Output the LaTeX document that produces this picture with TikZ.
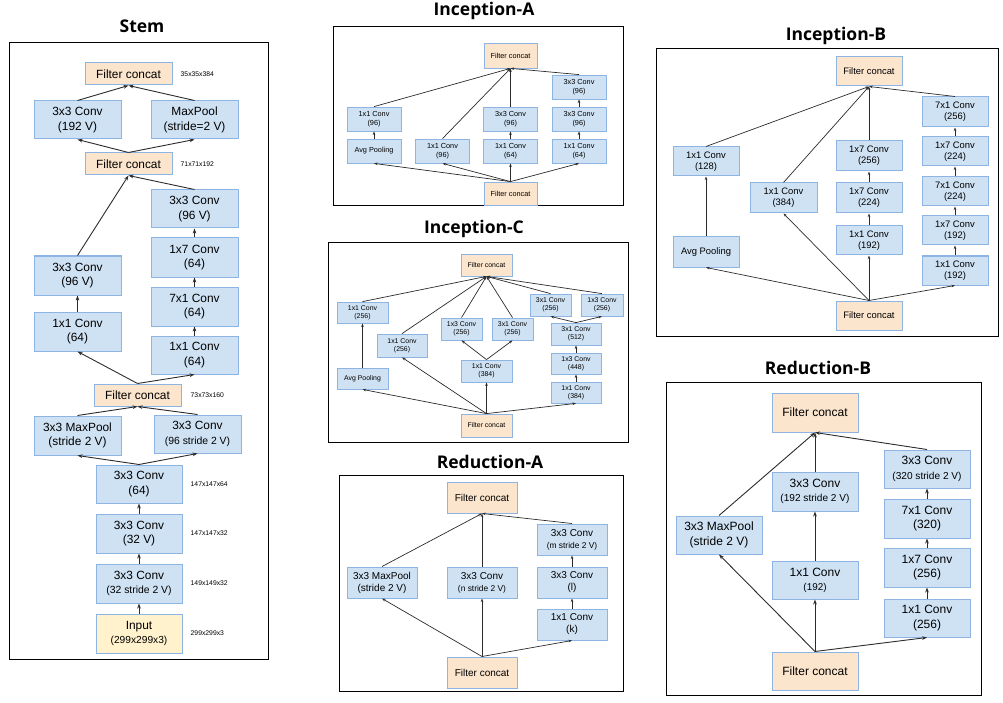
\documentclass[tikz,border=0pt]{standalone}
\usepackage{fontspec}
\setmainfont{Liberation Sans}
\newfontfamily\titlefont{Open Sans}
\usetikzlibrary{arrows.meta,positioning}

\definecolor{convfill}{HTML}{CFE2F3}
\definecolor{concatfill}{HTML}{FCE5CD}
\definecolor{inputfill}{HTML}{FFF2CC}
\definecolor{boxline}{HTML}{8EB4E3}
\definecolor{arrowgray}{HTML}{2B2B2B}

\newcommand\subline[2]{{\fontsize{#1}{#1}\selectfont #2}}

\tikzset{
  fs/.style 2 args={font=\fontsize{#1}{#2}\selectfont},
  block/.style n args={2}{draw=boxline, line width=1pt, align=center,
    inner sep=0pt, minimum width=#1pt, minimum height=#2pt},
  conv/.style={fill=convfill},
  concat/.style={fill=concatfill},
  inbox/.style={fill=inputfill},
  link/.style={draw=arrowgray, line width=0.9pt, -{Stealth[length=5pt,width=3.6pt]}},
  thinlink/.style={draw=arrowgray, line width=0.7pt, -{Stealth[length=3.6pt,width=2.6pt]}},
  panel/.style={draw=black, line width=1pt},
  paneltitle/.style={font=\titlefont\bfseries\fontsize{17.5}{20}\selectfont, anchor=base},
  dimlbl/.style={font=\fontsize{6.8}{7}\selectfont, inner sep=0pt, anchor=west},
}

\begin{document}
\begin{tikzpicture}[x=1pt, y=-1pt]
\useasboundingbox (0,0) rectangle (1003,703);

% Stem
\node[paneltitle] (stemt) at (142,33) {Stem};
\draw[panel] (9,43) rectangle (268,659);
\begin{scope}[fs={11.9}{14.3}]
  \node[block={86}{39}, inbox] (sin) at (139,633.5) {Input\\\subline{10.2}{(299x299x3)}};
  \node[block={86}{39}, conv] (s1) at (139,583.5) {3x3 Conv\\\subline{10.4}{(32 stride 2 V)}};
  \node[block={86}{39}, conv] (s2) at (139,533.5) {3x3 Conv\\(32 V)};
  \node[block={86}{38}, conv] (s3) at (139,484) {3x3 Conv\\(64)};
  \node[block={87}{39}, conv] (smp1) at (77.5,435.5) {3x3 MaxPool\\(stride 2 V)};
  \node[block={87}{38}, conv] (scv1) at (197.5,434) {3x3 Conv\\\subline{10.4}{(96 stride 2 V)}};
  \node[block={87}{22}, concat] (sfc3) at (137.5,395) {Filter concat};
  \node[block={87}{39}, conv] (sl1) at (77.5,331.5) {1x1 Conv\\(64)};
  \node[block={87}{39}, conv] (sl2) at (77.5,275.5) {3x3 Conv\\(96 V)};
  \node[block={87}{38}, conv] (sr1) at (194.5,355) {1x1 Conv\\(64)};
  \node[block={87}{39}, conv] (sr2) at (194.5,306.5) {7x1 Conv\\(64)};
  \node[block={87}{39}, conv] (sr3) at (194.5,257.5) {1x7 Conv\\(64)};
  \node[block={87}{38}, conv] (sr4) at (194.5,209) {3x3 Conv\\(96 V)};
  \node[block={87}{22}, concat] (sfc2) at (128.5,164) {Filter concat};
  \node[block={87}{38}, conv] (scv2) at (77.5,120) {3x3 Conv\\(192 V)};
  \node[block={87}{38}, conv] (smp2) at (194.5,120) {MaxPool\\(stride=2 V)};
  \node[block={87}{22}, concat] (sfc1) at (128.5,74) {Filter concat};
\end{scope}
% Sizes
\node[dimlbl, right=8pt of sfc1] (d1) {35x35x384};
\node[dimlbl, right=8pt of sfc2] (d2) {71x71x192};
\node[dimlbl, right=9pt of sfc3] (d3) {73x73x160};
\node[dimlbl, right=8pt of s3] (d4) {147x147x64};
\node[dimlbl, right=8pt of s2] (d5) {147x147x32};
\node[dimlbl, right=8pt of s1] (d6) {149x149x32};
\node[dimlbl, right=8pt of sin] (d7) {299x299x3};
\foreach \a/\b in {sin/s1, s1/s2, s2/s3, s3/smp1, s3/scv1, smp1/sfc3, scv1/sfc3,
  sfc3/sl1, sfc3/sr1, sl1/sl2, sr1/sr2, sr2/sr3, sr3/sr4, sl2/sfc2, sr4/sfc2,
  sfc2/scv2, sfc2/smp2, scv2/sfc1, smp2/sfc1}
  \draw[link] (\a.north) -- (\b.south);

% Inception-A
\node[paneltitle] (at) at (484,16) {Inception-A};
\draw[panel] (333,27) rectangle (623,206);
\begin{scope}[fs={7.3}{8.8}]
  \node[block={53}{25}, concat, line width=0.8pt] (atop) at (510.5,55.5) {Filter concat};
  \node[block={54}{24}, conv, line width=0.8pt] (ac3) at (579,87) {3x3 Conv\\(96)};
  \node[block={54}{24}, conv, line width=0.8pt] (ap1) at (374,119) {1x1 Conv\\(96)};
  \node[block={54}{24}, conv, line width=0.8pt] (ab2) at (510.5,119) {3x3 Conv\\(96)};
  \node[block={54}{24}, conv, line width=0.8pt] (ac2) at (579,119) {3x3 Conv\\(96)};
  \node[block={54}{24}, conv, line width=0.8pt] (apool) at (374,151) {Avg Pooling};
  \node[block={54}{24}, conv, line width=0.8pt] (ad1) at (442.5,151) {1x1 Conv\\(96)};
  \node[block={54}{24}, conv, line width=0.8pt] (ab1) at (510.5,151) {1x1 Conv\\(64)};
  \node[block={54}{24}, conv, line width=0.8pt] (ac1) at (579,151) {1x1 Conv\\(64)};
  \node[block={53}{23}, concat, line width=0.8pt] (abot) at (510.5,193.5) {Filter concat};
\end{scope}
\foreach \a/\b in {abot/apool, abot/ad1, abot/ab1, abot/ac1, apool/ap1, ab1/ab2,
  ac1/ac2, ac2/ac3, ap1/atop, ad1/atop, ab2/atop, ac3/atop}
  \draw[thinlink] (\a.north) -- (\b.south);

% Inception-C
\node[paneltitle] (ct) at (474,234) {Inception-C};
\draw[panel] (328,243) rectangle (628,442);
\begin{scope}[fs={6.9}{8.3}]
  \node[block={51}{22}, concat, line width=0.8pt] (ctop) at (486.5,265) {Filter concat};
  \node[block={51}{21}, conv, line width=0.8pt] (cp1) at (362.5,312.5) {1x1 Conv\\(256)};
  \node[block={41}{22}, conv, line width=0.8pt] (ce1) at (550.5,305) {3x1 Conv\\(256)};
  \node[block={42}{22}, conv, line width=0.8pt] (ce2) at (602,305) {1x3 Conv\\(256)};
  \node[block={50}{23}, conv, line width=0.8pt] (cd1) at (402,345.5) {1x1 Conv\\(256)};
  \node[block={41}{22}, conv, line width=0.8pt] (cm1) at (461.5,329) {1x3 Conv\\(256)};
  \node[block={41}{22}, conv, line width=0.8pt] (cm2) at (512.5,329) {3x1 Conv\\(256)};
  \node[block={50}{22}, conv, line width=0.8pt] (cr3) at (576,334) {3x1 Conv\\(512)};
  \node[block={51}{22}, conv, line width=0.8pt] (cm0) at (486.5,371) {1x1 Conv\\(384)};
  \node[block={50}{21}, conv, line width=0.8pt] (cr2) at (576,363.5) {1x3 Conv\\(448)};
  \node[block={51}{21}, conv, line width=0.8pt] (cpool) at (362.5,378.5) {Avg Pooling};
  \node[block={50}{21}, conv, line width=0.8pt] (cr1) at (576,392.5) {1x1 Conv\\(384)};
  \node[block={51}{23}, concat, line width=0.8pt] (cbot) at (486.5,425.5) {Filter concat};
\end{scope}
\foreach \a/\b in {cbot/cpool, cbot/cd1, cbot/cm0, cbot/cr1, cpool/cp1, cm0/cm1,
  cm0/cm2, cr1/cr2, cr2/cr3, cr3/ce1, cr3/ce2, cp1/ctop, cd1/ctop, cm1/ctop,
  cm2/ctop, ce1/ctop, ce2/ctop}
  \draw[thinlink] (\a.north) -- (\b.south);

% Inception-B
\node[paneltitle] (bt) at (836,41) {Inception-B};
\draw[panel] (656,49) rectangle (998,336);
\begin{scope}[fs={9.4}{11.3}]
  \node[block={66}{29}, concat] (btop) at (869,71.5) {Filter concat};
  \node[block={66}{30}, conv] (br5) at (955,112) {7x1 Conv\\(256)};
  \node[block={66}{29}, conv] (br4) at (955,151.5) {1x7 Conv\\(224)};
  \node[block={66}{29}, conv] (br3) at (955,191.5) {7x1 Conv\\(224)};
  \node[block={66}{29}, conv] (br2) at (955,230.5) {1x7 Conv\\(192)};
  \node[block={66}{29}, conv] (br1) at (955,270.5) {1x1 Conv\\(192)};
  \node[block={66}{29}, conv] (bp1) at (706,161.5) {1x1 Conv\\(128)};
  \node[block={66}{30}, conv] (bpool) at (706,252) {Avg Pooling};
  \node[block={67}{30}, conv] (bd1) at (783.5,198) {1x1 Conv\\(384)};
  \node[block={66}{30}, conv] (bm3) at (869,156) {1x7 Conv\\(256)};
  \node[block={66}{30}, conv] (bm2) at (869,198) {1x7 Conv\\(224)};
  \node[block={66}{29}, conv] (bm1) at (869,240.5) {1x1 Conv\\(192)};
  \node[block={66}{29}, concat] (bbot) at (869,315.5) {Filter concat};
\end{scope}
\foreach \a/\b in {bbot/bpool, bbot/bd1, bbot/bm1, bbot/br1, bpool/bp1, bm1/bm2,
  bm2/bm3, br1/br2, br2/br3, br3/br4, br4/br5, bp1/btop, bd1/btop, bm3/btop, br5/btop}
  \draw[thinlink] (\a.north) -- (\b.south);

% Reduction-A
\node[paneltitle] (rat) at (490,468) {Reduction-A};
\draw[panel] (339,475) rectangle (623,691);
\begin{scope}[fs={10}{12}]
  \node[block={70}{31}, concat] (ratop) at (482,497.5) {Filter concat};
  \node[block={70}{31}, conv] (rac3) at (572,539.5) {3x3 Conv\\\subline{8.4}{(m stride 2 V)}};
  \node[block={70}{31}, conv] (ramp) at (382,582.5) {3x3 MaxPool\\(stride 2 V)};
  \node[block={70}{31}, conv] (ran) at (482,582.5) {3x3 Conv\\\subline{8.4}{(n stride 2 V)}};
  \node[block={70}{31}, conv] (rac2) at (572,582.5) {3x3 Conv\\(l)};
  \node[block={70}{31}, conv] (rac1) at (572,624.5) {1x1 Conv\\(k)};
  \node[block={70}{31}, concat] (rabot) at (482,672.5) {Filter concat};
\end{scope}
\foreach \a/\b in {rabot/ramp, rabot/ran, rabot/rac1, rac1/rac2, rac2/rac3,
  ramp/ratop, ran/ratop, rac3/ratop}
  \draw[thinlink] (\a.north) -- (\b.south);

% Reduction-B
\node[paneltitle] (rbt) at (818,374) {Reduction-B};
\draw[panel] (666,382) rectangle (981,695);
\begin{scope}[fs={12}{14.3}]
  \node[block={86}{39}, concat] (rbtop) at (815,412.5) {Filter concat};
  \node[block={86}{38}, conv] (rbc4) at (927,469) {3x3 Conv\\\subline{10.1}{(320 stride 2 V)}};
  \node[block={86}{39}, conv] (rbm2) at (815,491.5) {3x3 Conv\\\subline{10.1}{(192 stride 2 V)}};
  \node[block={86}{39}, conv] (rbc3) at (927,518.5) {7x1 Conv\\(320)};
  \node[block={86}{38}, conv] (rbmp) at (719,535) {3x3 MaxPool\\(stride 2 V)};
  \node[block={86}{39}, conv] (rbc2) at (927,567.5) {1x7 Conv\\(256)};
  \node[block={86}{38}, conv] (rbm1) at (815,580) {1x1 Conv\\\subline{9.9}{(192)}};
  \node[block={86}{38}, conv] (rbc1) at (927,618) {1x1 Conv\\(256)};
  \node[block={86}{38}, concat] (rbbot) at (815,671) {Filter concat};
\end{scope}
\foreach \a/\b in {rbbot/rbmp, rbbot/rbm1, rbbot/rbc1, rbm1/rbm2, rbc1/rbc2,
  rbc2/rbc3, rbc3/rbc4, rbmp/rbtop, rbm2/rbtop, rbc4/rbtop}
  \draw[link] (\a.north) -- (\b.south);
\end{tikzpicture}
\end{document}
